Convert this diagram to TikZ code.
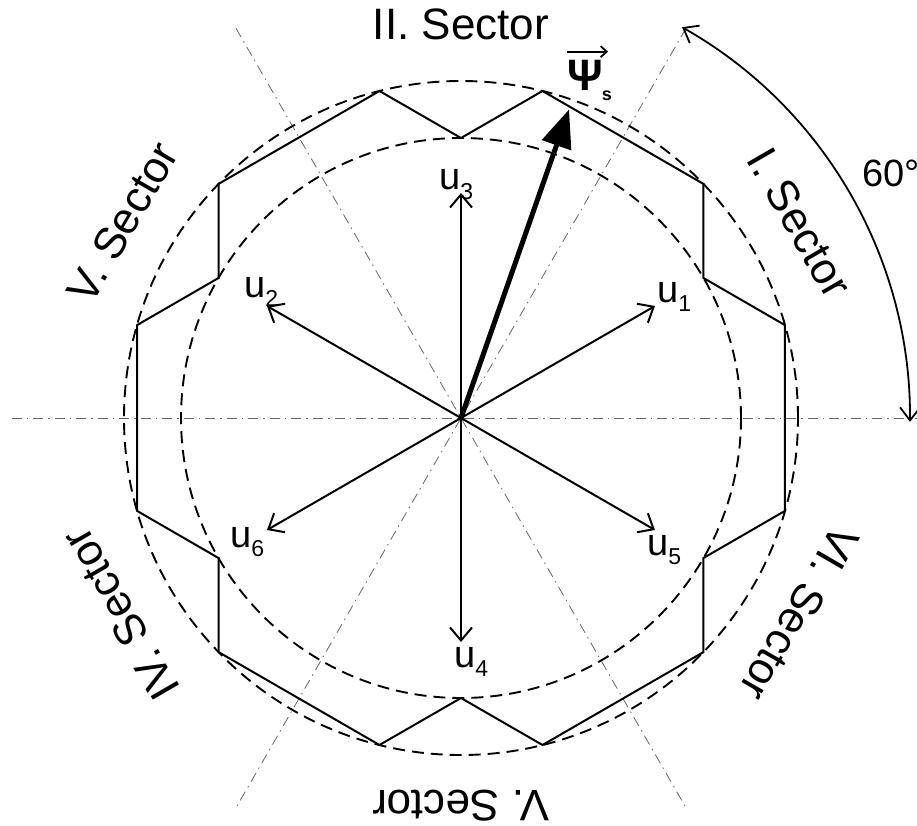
\documentclass[tikz,border=0pt]{standalone}
\usepackage{fontspec}
\setmainfont{Liberation Sans}
\usetikzlibrary{arrows.meta}
\tikzset{
  traj/.style={line width=2pt, line join=miter},
  circ/.style={line width=1.9pt, dash pattern=on 12pt off 7pt},
  axisline/.style={line width=0.8pt, black!60, dash pattern=on 10pt off 5pt on 1.5pt off 5pt},
  uarrow/.style={line width=2pt, -{Straight Barb[length=13pt,width=22pt]}},
  psiarrow/.style={line width=5pt, -{Triangle[length=38pt,width=30pt]}},
  arcarrow/.style={line width=1.8pt, {Straight Barb[length=13pt,width=20pt]}-{Straight Barb[length=13pt,width=20pt]}},
  sectorlbl/.style={font=\fontsize{44}{50}\selectfont, inner sep=0pt},
  ulbl/.style={font=\fontsize{38}{40}\selectfont, inner sep=0pt, anchor=base west},
}
\newcommand{\usub}[1]{u\raisebox{-9pt}{\fontsize{23}{23}\selectfont #1}}
\begin{document}
\begin{tikzpicture}[x=1pt,y=1pt]
\useasboundingbox (-461,-407) rectangle (456,418);
\coordinate (O) at (0,0);
% axes
\draw[axisline] (180:449) -- (0:462);
\draw[axisline] (60:450) -- (240:450);
\draw[axisline] (120:450) -- (300:450);
% circles
\draw[circ] (O) circle[radius=337pt];
\draw[circ] (O) circle[radius=280pt];
% trajectory
\draw[traj] (16:337) -- (30:280) -- (44:337) -- (76:337) -- (90:280) -- (104:337)
  -- (136:337) -- (150:280) -- (164:337) -- (196:337) -- (210:280) -- (224:337)
  -- (256:337) -- (270:280) -- (284:337) -- (316:337) -- (330:280) -- (344:337) -- cycle;
% voltage vectors
\coordinate (t1) at (30:224);
\coordinate (t2) at (150:224);
\coordinate (t3) at (90:225);
\coordinate (t4) at (270:224);
\coordinate (t5) at (330:224);
\coordinate (t6) at (210:224);
\foreach \k in {1,...,6} {\draw[uarrow] (O) -- (t\k);}
\node[ulbl] (l1) at (196,116) {\usub{1}};
\node[ulbl] (l2) at (-217,121) {\usub{2}};
\node[ulbl] (l3) at (-22,228) {\usub{3}};
\node[ulbl] (l4) at (-7,-249) {\usub{4}};
\node[ulbl] (l5) at (186,-137) {\usub{5}};
\node[ulbl] (l6) at (-231,-129) {\usub{6}};
% flux vector
\coordinate (ps) at (70.7:327);
\draw[psiarrow] (O) -- (ps);
\node[inner sep=0pt, font=\fontsize{44}{46}\selectfont\bfseries] (psi) at (124,343) {Ψ};
\node[inner sep=0pt, font=\fontsize{18}{20}\selectfont\bfseries] (psis) at (146,322) {s};
\draw[line width=1.8pt, -{Straight Barb[length=6pt,width=11pt]}] ([shift={(0,8)}]psi.north west) -- ([shift={(5,8)}]psi.north east);
% 60 degree arc
\coordinate (a1) at (60.5:449);
\draw[arcarrow] (a1) arc[start angle=60.5, end angle=-0.5, radius=449pt];
\node[anchor=base west, inner sep=0pt, font=\fontsize{38}{40}\selectfont] (deg) at (401,231) {60°};
% sector labels
\node[sectorlbl] (s2) at (90:394) {II. Sector};
\node[sectorlbl, rotate=-60] (s1) at (30:391) {I. Sector};
\node[sectorlbl, rotate=60] (s3) at (150:391) {V. Sector};
\node[sectorlbl, rotate=120] (s4) at (210:393) {IV. Sector};
\node[sectorlbl, rotate=180] (s5) at (270:388) {V. Sector};
\node[sectorlbl, rotate=240] (s6) at (330:391) {VI. Sector};
\end{tikzpicture}
\end{document}
